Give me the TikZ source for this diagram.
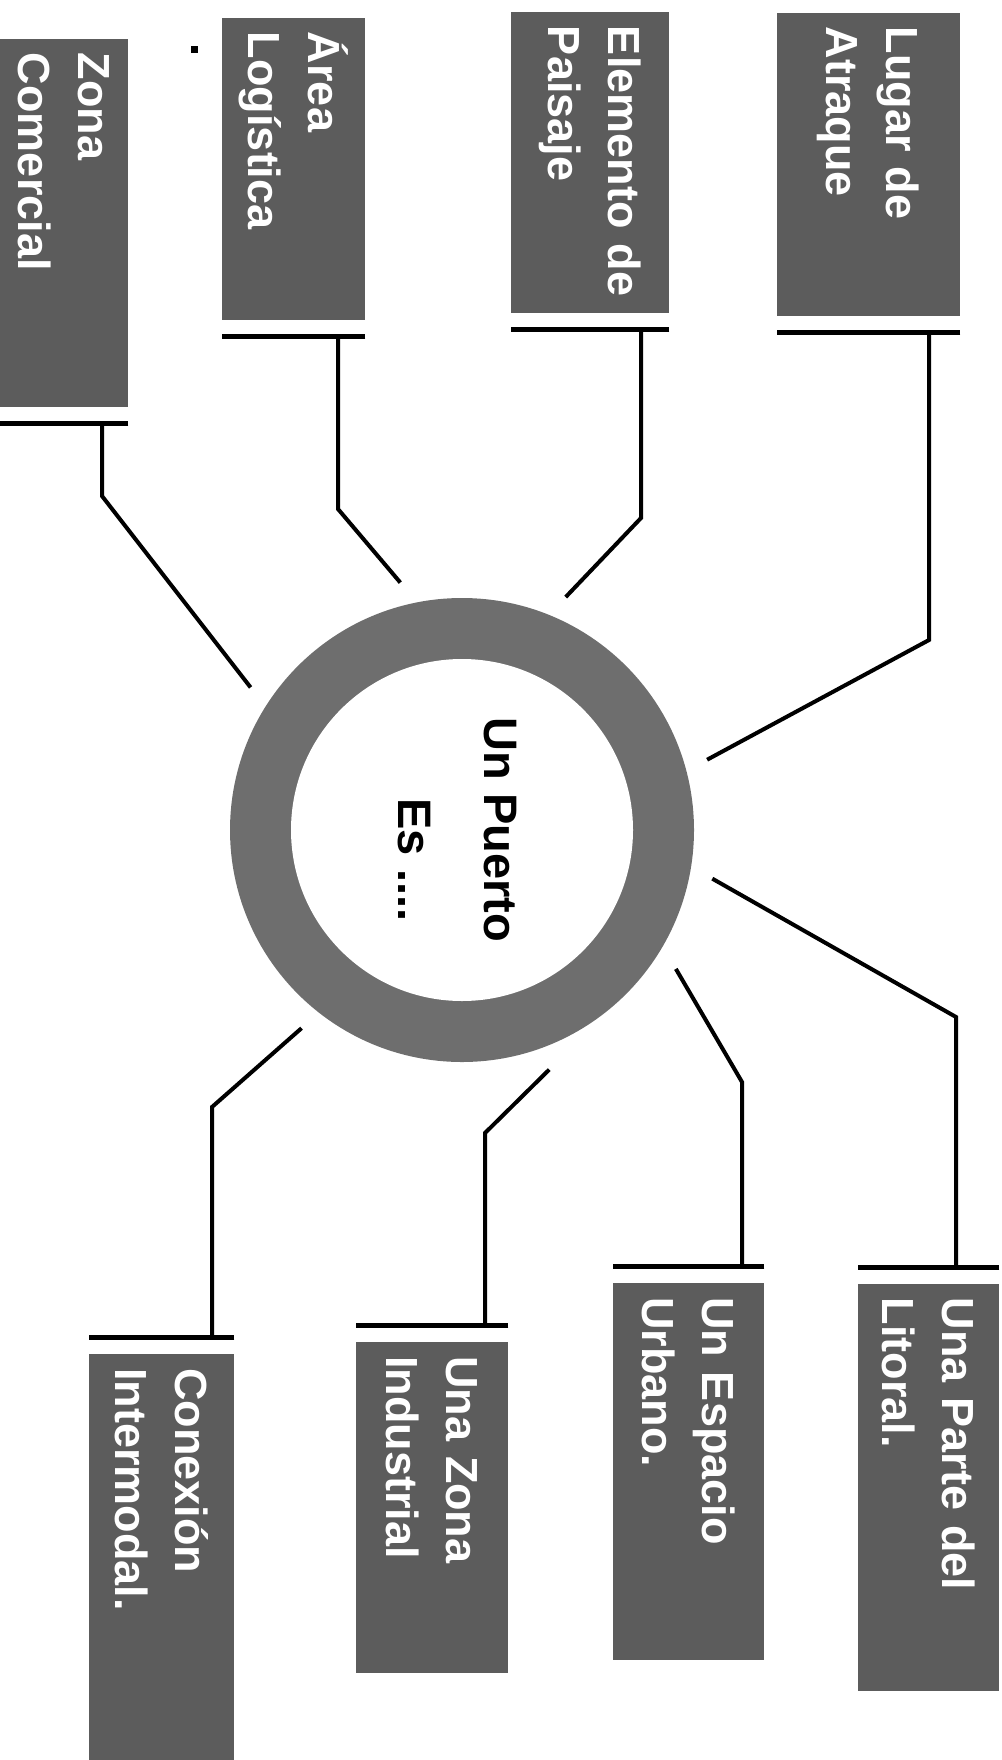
\documentclass[tikz,border=0pt]{standalone}
\usepackage{fontspec}
\setmainfont{Liberation Sans}
\definecolor{ringgray}{gray}{0.43}
\definecolor{boxgray}{gray}{0.36}
\tikzset{
  tag/.style={rotate=-90,fill=boxgray,text=white,align=left,inner xsep=7pt,inner ysep=0pt,font=\bfseries\fontsize{22.5}{30}\selectfont},
  link/.style={line width=2pt},
  bar/.style={line width=2.5pt}
}
\begin{document}
\begin{tikzpicture}[x=0.5pt,y=-0.5pt]
\useasboundingbox (0,0) rectangle (1001,1760);
\node (hub) at (462,830) [circle,fill=ringgray,minimum size=232pt,inner sep=0pt,outer sep=11.5pt]{};
\node (core) at (hub) [circle,fill=white,minimum size=171pt,inner sep=0pt]{};
\node (title) at (457,830) [rotate=-90,align=center,font=\bfseries\fontsize{23.5}{43}\selectfont]{Un Puerto\\\hspace*{30pt}Es ....};
\node (zona) at (64,223) [tag,text width=170pt,minimum height=64pt]{Zona\\Comercial};
\node (area) at (293.5,169) [tag,text width=137pt,minimum height=71.5pt]{Área\\Logística};
\node (paisaje) at (590,162.5) [tag,text width=136.5pt,minimum height=79pt]{Elemento~de\\Paisaje};
\node (atraque) at (868.5,164.5) [tag,text width=137.5pt,minimum height=91.5pt]{Lugar~de\\Atraque};
\node (litoral) at (928.5,1487) [tag,text width=189.5pt,minimum height=70.5pt]{Una~Parte~del\\Litoral.};
\node (urbano) at (688.5,1471.5) [tag,text width=174.5pt,minimum height=75.5pt]{Un~Espacio\\Urbano.};
\node (industrial) at (432,1507.5) [tag,text width=151.5pt,minimum height=76pt]{Una~Zona\\Industrial};
\node (intermodal) at (161.5,1557) [tag,text width=189pt,minimum height=72.5pt]{Conexión\\Intermodal.};
\node (dot) at (194,50) [fill=black,minimum size=3.5pt,inner sep=0pt]{};
\coordinate (zona-bar) at ([yshift=-8pt]zona.east);
\coordinate (area-bar) at ([yshift=-8pt]area.east);
\coordinate (paisaje-bar) at ([yshift=-8pt]paisaje.east);
\coordinate (atraque-bar) at ([yshift=-8pt]atraque.east);
\coordinate (litoral-bar) at ([yshift=8pt]litoral.west);
\coordinate (urbano-bar) at ([yshift=8pt]urbano.west);
\coordinate (industrial-bar) at ([yshift=8pt]industrial.west);
\coordinate (intermodal-bar) at ([yshift=8pt]intermodal.west);
\draw[bar] ([yshift=-8pt]zona.north east) -- ([yshift=-8pt]zona.south east);
\draw[bar] ([yshift=-8pt]area.north east) -- ([yshift=-8pt]area.south east);
\draw[bar] ([yshift=-8pt]paisaje.north east) -- ([yshift=-8pt]paisaje.south east);
\draw[bar] ([yshift=-8pt]atraque.north east) -- ([yshift=-8pt]atraque.south east);
\draw[bar] ([yshift=8pt]litoral.north west) -- ([yshift=8pt]litoral.south west);
\draw[bar] ([yshift=8pt]urbano.north west) -- ([yshift=8pt]urbano.south west);
\draw[bar] ([yshift=8pt]industrial.north west) -- ([yshift=8pt]industrial.south west);
\draw[bar] ([yshift=8pt]intermodal.north west) -- ([yshift=8pt]intermodal.south west);
\coordinate (k1) at (102,496);
\coordinate (k2) at (338,509);
\coordinate (k3) at (641,518);
\coordinate (k4) at (929,640);
\coordinate (k5) at (956,1017);
\coordinate (k6) at (742,1082);
\coordinate (k7) at (485,1133);
\coordinate (k8) at (212,1107);
\draw[link] (hub.146) -- (k1) -- (k1 |- zona-bar);
\draw[link] (hub.104) -- (k2) -- (k2 |- area-bar);
\draw[link] (hub.66) -- (k3) -- (k3 |- paisaje-bar);
\draw[link] (hub.16) -- (k4) -- (k4 |- atraque-bar);
\draw[link] (hub.-11) -- (k5) -- (k5 |- litoral-bar);
\draw[link] (hub.-33) -- (k6) -- (k6 |- urbano-bar);
\draw[link] (hub.-70) -- (k7) -- (k7 |- industrial-bar);
\draw[link] (hub.-129) -- (k8) -- (k8 |- intermodal-bar);
\end{tikzpicture}
\end{document}
